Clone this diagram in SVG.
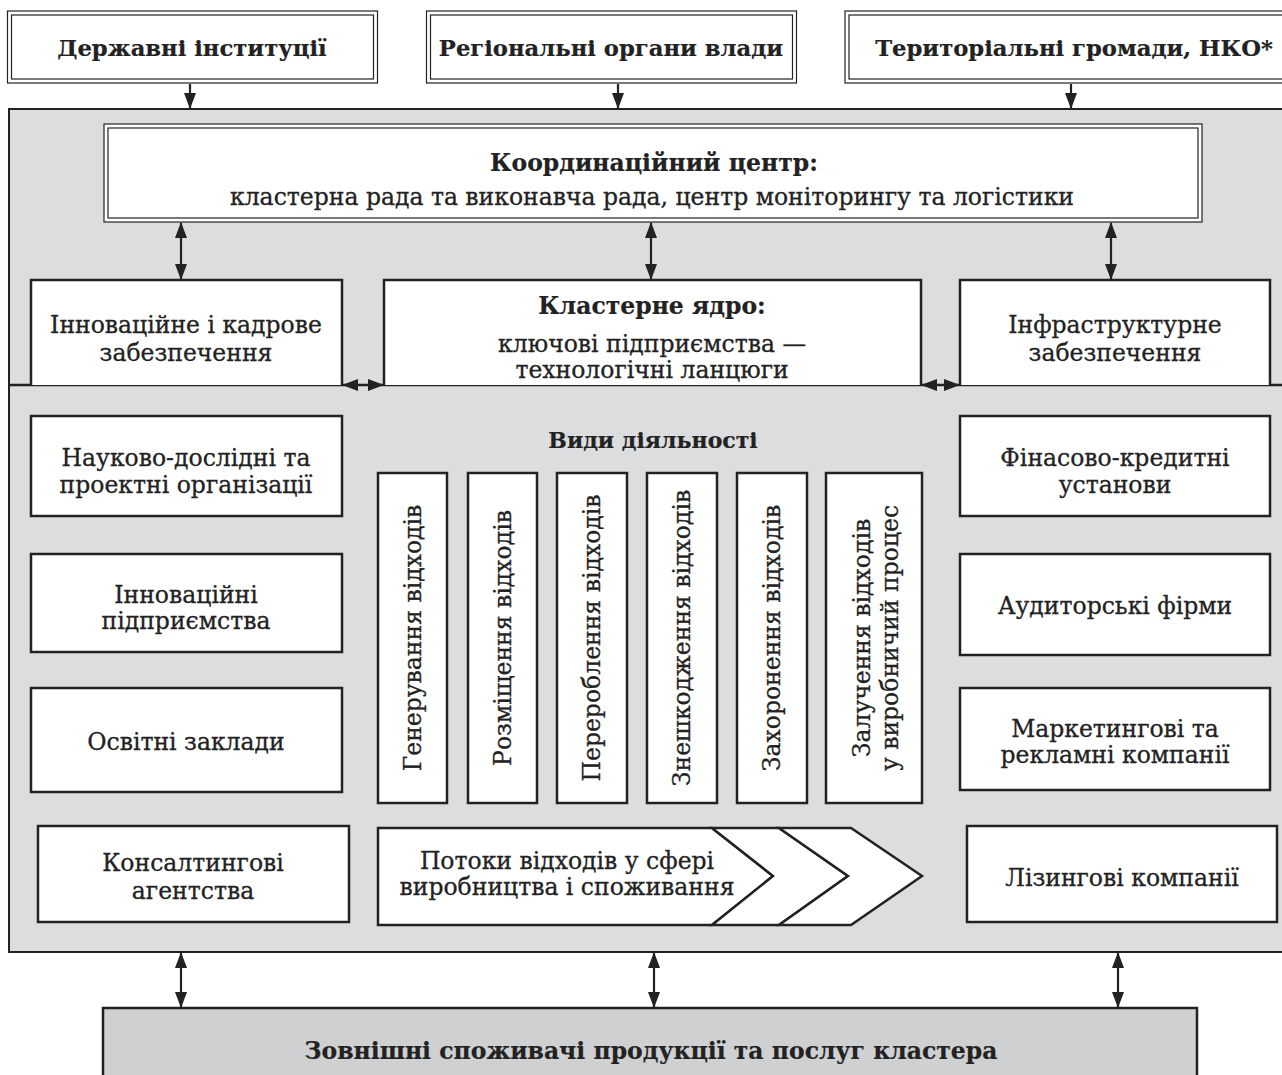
<svg xmlns="http://www.w3.org/2000/svg" width="1282" height="1075" viewBox="0 0 1282 1075">
<style>
text{font-family:"DejaVu Serif","Liberation Serif",serif;font-size:23.5px;fill:#222;stroke:#222;stroke-width:0.3;text-anchor:middle}
.b{font-weight:bold;stroke-width:0.2}
.top{font-size:22.7px}
.box{fill:#fff;stroke:#222;stroke-width:2.5}
.thin{fill:none;stroke:#222;stroke-width:1.2}
.conn{stroke:#222;stroke-width:2.2;fill:none}
</style>
<defs>
<marker id="ah" viewBox="0 0 16 12" refX="15" refY="6" markerWidth="16" markerHeight="12" markerUnits="userSpaceOnUse" orient="auto-start-reverse">
<path d="M0,0 L16,6 L0,12 z" fill="#222"/>
</marker>
</defs>
<rect width="1282" height="1075" fill="#fff"/>

<g id="main-area">
<rect x="9" y="109" width="1290" height="843" fill="#dcdddf" stroke="#222" stroke-width="2"/>
<line x1="9" y1="385" x2="1282" y2="385" stroke="#222" stroke-width="2.5"/>
</g>

<g id="state-institutions">
<rect x="7.5" y="11" width="370" height="72" fill="#fff" stroke="#222" stroke-width="1.2"/>
<rect x="11.5" y="15" width="362" height="64" class="thin"/>
<text x="192" y="56" class="b top">Державні інституції</text>
</g>
<g id="regional-authorities">
<rect x="426.5" y="11" width="370" height="72" fill="#fff" stroke="#222" stroke-width="1.2"/>
<rect x="430.5" y="15" width="362" height="64" class="thin"/>
<text x="611" y="56" class="b top">Регіональні органи влади</text>
</g>
<g id="territorial-communities">
<rect x="845" y="11" width="460" height="72" fill="#fff" stroke="#222" stroke-width="1.2"/>
<rect x="849" y="15" width="452" height="64" class="thin"/>
<text x="1074" y="56" class="b top">Територіальні громади, НКО*</text>
</g>

<g id="coordination-center">
<rect x="104" y="124" width="1098" height="98" fill="#fff" stroke="#222" stroke-width="1.2"/>
<rect x="108" y="128" width="1090" height="90" class="thin"/>
<text x="654" y="171" class="b">Координаційний центр:</text>
<text x="652" y="205">кластерна рада та виконавча рада, центр моніторингу та логістики</text>
</g>

<g id="innovation-staff">
<path d="M31,385 V280 H342 V385" class="box"/>
<text x="186" y="333">Інноваційне і кадрове</text>
<text x="186" y="361">забезпечення</text>
</g>
<g id="cluster-core">
<path d="M384,385 V280 H921 V385" class="box"/>
<text x="652" y="314" class="b">Кластерне ядро:</text>
<text x="652" y="352">ключові підприємства —</text>
<text x="652" y="378">технологічні ланцюги</text>
</g>
<g id="infrastructure">
<path d="M960,385 V280 H1270 V385" class="box"/>
<text x="1115" y="333">Інфраструктурне</text>
<text x="1115" y="361">забезпечення</text>
</g>

<g id="research-orgs">
<rect x="31" y="416" width="311" height="100" class="box"/>
<text x="186" y="466">Науково-дослідні та</text>
<text x="186" y="493">проектні організації</text>
</g>
<g id="innovative-enterprises">
<rect x="31" y="554" width="311" height="98" class="box"/>
<text x="186" y="603">Інноваційні</text>
<text x="186" y="629">підприємства</text>
</g>
<g id="educational">
<rect x="31" y="688" width="311" height="104" class="box"/>
<text x="186" y="750">Освітні заклади</text>
</g>
<g id="consulting">
<rect x="38" y="826" width="311" height="96" class="box"/>
<text x="193" y="871">Консалтингові</text>
<text x="193" y="899">агентства</text>
</g>

<g id="financial">
<rect x="960" y="416" width="310" height="100" class="box"/>
<text x="1115" y="466">Фінасово-кредитні</text>
<text x="1115" y="493">установи</text>
</g>
<g id="audit">
<rect x="960" y="554" width="310" height="101" class="box"/>
<text x="1115" y="614">Аудиторські фірми</text>
</g>
<g id="marketing">
<rect x="960" y="688" width="310" height="102" class="box"/>
<text x="1115" y="737">Маркетингові та</text>
<text x="1115" y="763">рекламні компанії</text>
</g>
<g id="leasing">
<rect x="967" y="826" width="310" height="96" class="box"/>
<text x="1122" y="886">Лізингові компанії</text>
</g>

<g id="activities-title">
<text x="653" y="448" class="b" style="font-size:22px">Види діяльності</text>
</g>
<g id="act-generation">
<rect x="378" y="473" width="69" height="330" class="box"/>
<text transform="translate(412.5,638) rotate(-90)" y="8">Генерування відходів</text>
</g>
<g id="act-placement">
<rect x="468" y="473" width="69" height="330" class="box"/>
<text transform="translate(502.5,638) rotate(-90)" y="8">Розміщення відходів</text>
</g>
<g id="act-processing">
<rect x="557" y="473" width="70" height="330" class="box"/>
<text transform="translate(592,638) rotate(-90)" y="8">Перероблення відходів</text>
</g>
<g id="act-neutralization">
<rect x="647" y="473" width="70" height="330" class="box"/>
<text transform="translate(682,638) rotate(-90)" y="8">Знешкодження відходів</text>
</g>
<g id="act-burial">
<rect x="737" y="473" width="70" height="330" class="box"/>
<text transform="translate(772,638) rotate(-90)" y="8">Захоронення відходів</text>
</g>
<g id="act-involvement">
<rect x="826" y="473" width="96" height="330" class="box"/>
<text transform="translate(874,638) rotate(-90)" y="-4">Залучення відходів</text>
<text transform="translate(874,638) rotate(-90)" y="24">у виробничий процес</text>
</g>

<g id="waste-flows">
<path d="M378,828 H712 L773,876 L712,925 H378 Z" class="box"/>
<path d="M712,828 H779 L848,876 L779,925 H712 L773,876 Z" class="box"/>
<path d="M779,828 H851 L922,876 L851,925 H779 L848,876 Z" class="box"/>
<text x="567" y="869">Потоки відходів у сфері</text>
<text x="567" y="895">виробництва і споживання</text>
</g>

<g id="external-consumers">
<rect x="103" y="1008" width="1094" height="80" fill="#cfd0d2" stroke="#222" stroke-width="2.5"/>
<text x="651" y="1059" class="b">Зовнішні споживачі продукції та послуг кластера</text>
</g>

<g id="connectors" class="conn">
<line x1="190" y1="84" x2="190" y2="108" marker-end="url(#ah)"/>
<line x1="618" y1="84" x2="618" y2="108" marker-end="url(#ah)"/>
<line x1="1071" y1="84" x2="1071" y2="108" marker-end="url(#ah)"/>
<line x1="181" y1="223" x2="181" y2="279" marker-start="url(#ah)" marker-end="url(#ah)"/>
<line x1="651" y1="223" x2="651" y2="279" marker-start="url(#ah)" marker-end="url(#ah)"/>
<line x1="1111" y1="223" x2="1111" y2="279" marker-start="url(#ah)" marker-end="url(#ah)"/>
<line x1="343" y1="385" x2="383" y2="385" marker-start="url(#ah)" marker-end="url(#ah)"/>
<line x1="922" y1="385" x2="959" y2="385" marker-start="url(#ah)" marker-end="url(#ah)"/>
<line x1="181" y1="953" x2="181" y2="1007" marker-start="url(#ah)" marker-end="url(#ah)"/>
<line x1="654" y1="953" x2="654" y2="1007" marker-start="url(#ah)" marker-end="url(#ah)"/>
<line x1="1118" y1="953" x2="1118" y2="1007" marker-start="url(#ah)" marker-end="url(#ah)"/>
</g>
</svg>
